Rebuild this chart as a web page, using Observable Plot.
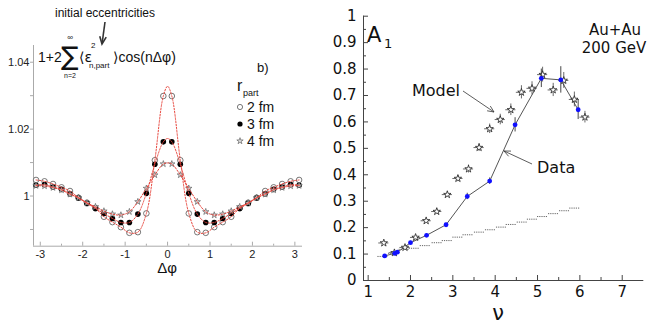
<!DOCTYPE html>
<html><head><meta charset="utf-8">
<script src="https://cdn.jsdelivr.net/npm/d3@7"></script>
<script src="https://cdn.jsdelivr.net/npm/@observablehq/plot@0.6"></script>
<style>
body{margin:0;background:#fff;}
#wrap{position:relative;width:665px;height:325px;overflow:hidden;background:#fff;}
#left,#right{position:absolute;top:0;}
#left{left:0}
#right{left:300px}
svg.ovl{position:absolute;left:0;top:0;pointer-events:none}
</style></head><body><div id="wrap"><div id="left"></div><div id="right"></div></div>
<script>
// ---------- left panel data ----------
const dphi = [-3.1,-2.9,-2.7,-2.5,-2.3,-2.1,-1.9,-1.7,-1.5,-1.3,-1.1,-0.9,-0.7,-0.5,-0.3,-0.1,
              0.1,0.3,0.5,0.7,0.9,1.1,1.3,1.5,1.7,1.9,2.1,2.3,2.5,2.7,2.9,3.1];
const r2fm = [1.0048,1.0044,1.0036,1.0026,1.0015,0.9995,0.9980,0.9964,0.9938,0.9922,0.9907,0.9890,0.9892,0.9948,1.0107,1.0299,
              1.0299,1.0107,0.9948,0.9892,0.9890,0.9907,0.9922,0.9938,0.9964,0.9980,0.9995,1.0015,1.0026,1.0036,1.0044,1.0048];
const r3fm = [1.0032,1.0034,1.0027,1.0020,1.0007,0.9994,0.9978,0.9963,0.9948,0.9933,0.9921,0.9921,0.9946,1.0008,1.0095,1.0162,
              1.0162,1.0095,1.0008,0.9946,0.9921,0.9921,0.9933,0.9948,0.9963,0.9978,0.9994,1.0007,1.0020,1.0027,1.0034,1.0032];
const r4fm = [1.0031,1.0030,1.0025,1.0018,1.0005,0.9995,0.9979,0.9968,0.9955,0.9946,0.9943,0.9953,0.9983,1.0023,1.0063,1.0096,
              1.0096,1.0063,1.0023,0.9983,0.9953,0.9943,0.9946,0.9955,0.9968,0.9979,0.9995,1.0005,1.0018,1.0025,1.0030,1.0031];
const fitPeaks = [1.0328, 1.0172, 1.0099];   // fit curve value at Δφ = 0 for 2, 3, 4 fm
const rpartLabels = ["2 fm", "3 fm", "4 fm"];
const leftXTicks = [-3,-2,-1,0,1,2,3];
const leftXLabels = ["-3","-2","-1","0","1","2","3"];
const leftXMinor = [-2.5,-1.5,-0.5,0.5,1.5,2.5];
const leftYTicks = [0.99,1.00,1.01,1.02,1.03,1.04];
const leftYLabels = ["","1","","1.02","","1.04"];

// ---------- right panel data ----------
const dataNu  = [1.39,1.63,1.69,2.00,2.38,2.84,3.34,3.87,4.47,5.09,5.55,5.96];
const dataA   = [0.093,0.103,0.107,0.143,0.171,0.211,0.318,0.376,0.589,0.765,0.759,0.646];
const dataErr = [0.004,0.004,0.004,0.005,0.005,0.006,0.012,0.012,0.027,0.035,0.05,0.037];
const modelNu  = [1.37,1.62,1.87,2.12,2.37,2.62,2.87,3.12,3.37,3.62,3.87,4.12,4.37,4.62,4.87,5.12,5.37,5.62,5.87,6.12];
const modelA   = [0.142,0.105,0.125,0.163,0.226,0.261,0.325,0.386,0.422,0.503,0.574,0.609,0.646,0.712,0.727,0.779,0.721,0.757,0.685,0.618];
const modelErr = [0.006,0.006,0.007,0.008,0.009,0.010,0.010,0.012,0.015,0.015,0.018,0.020,0.022,0.025,0.025,0.028,0.025,0.030,0.028,0.022];
const modelNuErr = 0.12;
const lowNu = [1.35,1.60,1.85,2.09,2.35,2.63,2.87,3.12,3.36,3.63,3.89,4.15,4.38,4.64,4.88,5.12,5.38,5.64,5.88];
const lowA  = [0.091,0.103,0.118,0.122,0.132,0.143,0.151,0.164,0.173,0.183,0.192,0.202,0.212,0.221,0.232,0.242,0.253,0.264,0.274];
const lowBinHalf = 0.12;
const rightXTicks = [1,2,3,4,5,6,7];
const rightXMinor = [1.5,2.5,3.5,4.5,5.5,6.5];
const rightYTicks = [0,0.1,0.2,0.3,0.4,0.5,0.6,0.7,0.8,0.9,1];
const rightYMinor = [0.05,0.15,0.25,0.35,0.45,0.55,0.65,0.75,0.85,0.95];

// ---------- left plot ----------
const LW = 310, LH = 290, LmL = 33, LmR = 8, LmT = 45, LmB = 44.3;
const LfH = LH - LmT - LmB;
const series = [r2fm, r3fm, r4fm].map(v => dphi.map((x, i) => ({x, y: v[i]})));
const fits = series.map((pts, k) => {
  const a = pts.slice(); a.splice(16, 0, {x: 0, y: fitPeaks[k]}); return a;
});
const redDot = {x: "x", y: "y", curve: "catmull-rom", stroke: "#e8453c", strokeWidth: 1, strokeDasharray: "1.6,1.6"};
const fmtL = d => { const k = leftYTicks.findIndex(t => Math.abs(t - d) < 1e-9); return k >= 0 ? leftYLabels[k] : ""; };
const fmtLX = d => { const k = leftXTicks.findIndex(t => Math.abs(t - d) < 1e-9); return k >= 0 ? leftXLabels[k] : ""; };
const starL = 2.0, starR = 2.3;

const left = Plot.plot({
  width: LW, height: LH, marginLeft: LmL, marginRight: LmR, marginTop: LmT, marginBottom: LmB,
  x: {domain: [-3.16, 3.18]},
  y: {domain: [0.985, 1.045]},
  style: {fontFamily: "Liberation Sans, Arial, sans-serif", fontSize: "11px", background: "transparent", overflow: "visible"},
  marks: [
    Plot.ruleX([-3.16], {stroke: "#aaa"}),
    Plot.ruleY([0.985], {stroke: "#aaa"}),
    Plot.axisY({ticks: leftYTicks, tickSize: 3, tickPadding: 1, tickFormat: fmtL, stroke: "#aaa", fill: "#222", fontSize: 11, label: null}),
    Plot.axisX({ticks: leftXTicks, tickSize: 0, tickPadding: 4, tickFormat: fmtLX, fill: "#222", fontSize: 11, label: null}),
    Plot.tickX(leftXTicks, {x: d => d, insetTop: LfH - 4, stroke: "#aaa"}),
    Plot.tickX(leftXMinor, {x: d => d, insetTop: LfH - 2, stroke: "#aaa"}),
    Plot.dot(series[0], {x: "x", y: "y", r: 2.8, fill: "white", stroke: "#555", strokeWidth: 0.8}),
    Plot.dot(series[1], {x: "x", y: "y", r: 2.8, fill: "black"}),
    Plot.dot(series[2], {x: "x", y: "y", r: starL, symbol: "star", fill: "#ddd", stroke: "#666", strokeWidth: 0.7}),
    ...fits.map(f => Plot.line(f, redDot))
  ]
});
document.getElementById("left").appendChild(left);

// ---------- right plot ----------
const RW = 365, RH = 325, RmL = 63, RmR = 21.7, RmT = 15.7, RmB = 45;
const RfW = RW - RmL - RmR, RfH = RH - RmT - RmB;
const dataRows = dataNu.map((x, i) => ({x, y: dataA[i], e: dataErr[i]}));
const modelRows = modelNu.map((x, i) => ({x, y: modelA[i], e: modelErr[i]}));
const lowRows = lowNu.map((x, i) => ({x, y: lowA[i]}));

const right = Plot.plot({
  width: RW, height: RH, marginLeft: RmL, marginRight: RmR, marginTop: RmT, marginBottom: RmB,
  x: {domain: [0.89, 7.51]},
  y: {domain: [0, 1]},
  style: {fontFamily: "DejaVu Sans, sans-serif", fontSize: "15px", background: "transparent", overflow: "visible"},
  marks: [
    Plot.ruleX([0.89], {stroke: "#444"}),
    Plot.ruleY([0], {stroke: "#444"}),
    Plot.axisY({ticks: rightYTicks, tickSize: 0, tickPadding: 7, tickFormat: d => String(+d.toFixed(1)), fill: "#111", fontSize: 15, label: null}),
    Plot.axisX({ticks: rightXTicks, tickSize: 0, tickPadding: 6, tickFormat: d => String(d), fill: "#111", fontSize: 15, label: null}),
    Plot.tickY(rightYTicks, {y: d => d, insetRight: RfW - 5, stroke: "#444"}),
    Plot.tickY(rightYMinor, {y: d => d, insetRight: RfW - 3, stroke: "#444"}),
    Plot.tickX(rightXTicks, {x: d => d, insetTop: RfH - 5, stroke: "#444"}),
    Plot.tickX(rightXMinor, {x: d => d, insetTop: RfH - 3, stroke: "#444"}),
    // lower series: bin-width bars
    Plot.ruleY(lowRows, {y: "y", x1: d => d.x - lowBinHalf, x2: d => d.x + lowBinHalf, stroke: "#666", strokeWidth: 1, strokeDasharray: "1.2,1"}),
    // data line
    Plot.line(dataRows, {x: "x", y: "y", stroke: "#555", strokeWidth: 1}),
    // model error bars + stars
    Plot.ruleX(modelRows, {x: "x", y1: d => d.y - d.e, y2: d => d.y + d.e, stroke: "#444", strokeWidth: 0.8}),
    Plot.ruleY(modelRows, {y: "y", x1: d => d.x - modelNuErr, x2: d => d.x + modelNuErr, stroke: "#444", strokeWidth: 0.8}),
    Plot.dot(modelRows, {x: "x", y: "y", symbol: "star", r: starR, fill: "white", stroke: "#222", strokeWidth: 0.8}),
    // data error bars + dots
    Plot.ruleX(dataRows, {x: "x", y1: d => d.y - d.e, y2: d => d.y + d.e, stroke: "#333", strokeWidth: 0.9}),
    Plot.dot(dataRows, {x: "x", y: "y", r: 2.4, fill: "#1010ff"})
  ]
});
document.getElementById("right").appendChild(right);

// ---------- overlay text (titles, legend, annotations) ----------
const ov = d3.select("#wrap").append("svg").attr("class", "ovl").attr("width", 665).attr("height", 325);
function t(x, y, s, size, opts = {}) {
  const e = ov.append("text").attr("x", x).attr("y", y).text(s)
    .attr("font-size", size).attr("font-family", opts.font || "Liberation Sans, Arial, sans-serif")
    .attr("fill", opts.fill || "#111");
  if (opts.anchor) e.attr("text-anchor", opts.anchor);
  return e;
}
function arrow(x1, y1, x2, y2, len, w) {
  const a = Math.atan2(y2 - y1, x2 - x1), da = 0.42;
  ov.append("line").attr("x1", x1).attr("y1", y1).attr("x2", x2).attr("y2", y2).attr("stroke", "#333").attr("stroke-width", w);
  const p = [[x2 - len * Math.cos(a - da), y2 - len * Math.sin(a - da)], [x2, y2], [x2 - len * Math.cos(a + da), y2 - len * Math.sin(a + da)]];
  ov.append("polyline").attr("points", p.map(q => q.join(",")).join(" ")).attr("fill", "none").attr("stroke", "#333").attr("stroke-width", w);
}
// left panel annotation
t(55, 17, "initial eccentricities", 12);
arrow(105, 22, 102, 44, 8, 1.6);
t(38, 62, "1+2", 14);
t(61, 65, "∑", 26, {font: "DejaVu Sans, sans-serif"});
t(70, 40, "∞", 8, {anchor: "middle"});
t(70, 78, "n=2", 7, {anchor: "middle"});
t(79, 62, "⟨ε", 14, {font: "DejaVu Sans, sans-serif"});
t(91, 48, "2", 8);
t(89, 68, "n,part", 8);
t(113, 62, "⟩cos(nΔφ)", 14, {font: "Liberation Sans, DejaVu Sans, sans-serif"});
t(257, 72, "b)", 13);
t(167, 273, "Δφ", 15, {anchor: "middle"});
// legend
t(237, 91, "r", 16);
t(243, 96, "part", 9);
const legY = [107, 124, 141];
ov.append("circle").attr("cx", 240).attr("cy", legY[0]).attr("r", 2.6).attr("fill", "white").attr("stroke", "#555").attr("stroke-width", 0.8);
ov.append("circle").attr("cx", 240).attr("cy", legY[1]).attr("r", 2.6).attr("fill", "black");
ov.append("path").attr("d", d3.symbol(d3.symbolStar, starL * starL * Math.PI)()).attr("transform", `translate(240,${legY[2]})`)
  .attr("fill", "#ddd").attr("stroke", "#666").attr("stroke-width", 0.7);
rpartLabels.forEach((s, i) => t(247, legY[i] + 5, s, 14));
// right panel annotation
t(367, 42, "A", 21, {font: "DejaVu Sans, sans-serif"});
t(384, 48, "1", 13, {font: "DejaVu Sans, sans-serif"});
t(615, 35, "Au+Au", 15, {font: "DejaVu Sans, sans-serif", anchor: "middle"});
t(614, 53, "200 GeV", 15, {font: "DejaVu Sans, sans-serif", anchor: "middle"});
t(460, 96, "Model", 16, {font: "DejaVu Sans, sans-serif", anchor: "end"});
arrow(463, 91, 494, 112, 7, 0.8);
t(537, 173, "Data", 16, {font: "DejaVu Sans, sans-serif"});
arrow(532, 164, 504, 151, 7, 0.8);
t(498, 320, "ν", 21, {font: "DejaVu Sans, sans-serif", anchor: "middle"});
</script></body></html>
